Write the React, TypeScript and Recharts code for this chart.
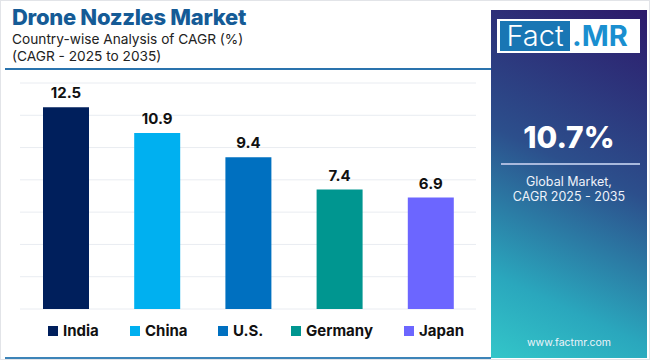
import { BarChart, Bar, Cell, XAxis, YAxis, CartesianGrid, LabelList } from "recharts";

const COUNTRIES = ["India", "China", "U.S.", "Germany", "Japan"];
const CAGR = [12.5, 10.9, 9.4, 7.4, 6.9];
const COLORS = ["#001f5c", "#00b0f0", "#0070c0", "#009690", "#6c66ff"];
const Y_TICKS = [0, 2, 4, 6, 8, 10, 12, 14];

const FONT = "Inter, 'Noto Sans', sans-serif";
const rows = COUNTRIES.map((c, i) => ({ country: c, cagr: CAGR[i] }));

export default function App() {
  return (
    <div style={{ position: "absolute", left: 0, top: 0, width: 650, height: 360, background: "#fff", fontFamily: FONT, overflow: "hidden" }}>
      <div style={{ position: "absolute", inset: 0, border: "1px solid #e2e4e8", boxSizing: "border-box" }} />

      <div style={{ position: "absolute", left: 12, top: 4, fontSize: 22, fontWeight: 800, color: "#155b96", letterSpacing: -0.3 }}>Drone Nozzles Market</div>
      <div style={{ position: "absolute", left: 12, top: 31, fontSize: 13.7, color: "#222" }}>Country-wise Analysis of CAGR (%)</div>
      <div style={{ position: "absolute", left: 12, top: 48, fontSize: 13.7, color: "#222" }}>(CAGR - 2025 to 2035)</div>
      <div style={{ position: "absolute", left: 5, top: 68, width: 486, height: 2, background: "#2a73ad" }} />
      <div style={{ position: "absolute", left: 5, top: 357, width: 486, height: 2, background: "#3d84b8" }} />

      <div style={{ position: "absolute", left: 0, top: 0 }}>
        <BarChart width={490} height={360} data={rows} margin={{ top: 83, left: 20, right: 14, bottom: 51 }}>
          <CartesianGrid horizontal vertical={false} stroke="#e9ecf1" />
          <XAxis dataKey="country" hide />
          <YAxis hide domain={[0, 14]} ticks={Y_TICKS} />
          <Bar dataKey="cagr" barSize={46} isAnimationActive={false}>
            {rows.map((_, i) => <Cell key={i} fill={COLORS[i]} />)}
            <LabelList dataKey="cagr" position="top" offset={9} fill="#111" fontSize={15} fontWeight={700} fontFamily={FONT} />
          </Bar>
        </BarChart>
      </div>

      <div style={{ position: "absolute", left: 0, top: 321, width: 490, fontSize: 15, fontWeight: 700, color: "#111" }}>
        {COUNTRIES.map((c, i) => (
          <div key={c} style={{ position: "absolute", left: [48, 130, 218, 291, 404][i], display: "flex", alignItems: "center", whiteSpace: "nowrap" }}>
            <span style={{ width: 10, height: 10, background: COLORS[i], marginRight: 5, display: "inline-block" }} />
            {c}
          </div>
        ))}
      </div>

      <div style={{ position: "absolute", left: 491, top: 10, width: 156, height: 348, background: "linear-gradient(205deg, #2d1a6b 0%, #2c4f8c 45%, #2aa7bd 80%, #33c6c9 100%)" }}>
        <div style={{ position: "absolute", left: 6, top: 9, width: 143, height: 34, background: "#fff" }}>
          <div style={{ position: "absolute", left: 3, top: 2, width: 70, height: 30, background: "#1976b4", color: "#fff", fontSize: 29, fontWeight: 300, lineHeight: "30px", textAlign: "center" }}>Fact</div>
          <div style={{ position: "absolute", left: 75, top: 1, color: "#1a8fd0", fontSize: 29, fontWeight: 700, lineHeight: "32px" }}>.MR</div>
        </div>
        <div style={{ position: "absolute", left: 0, width: 156, top: 109, textAlign: "center", color: "#fff", fontSize: 30, fontWeight: 800 }}>10.7%</div>
        <div style={{ position: "absolute", left: 10, top: 153, width: 139, height: 1.5, background: "#a9b9dd" }} />
        <div style={{ position: "absolute", left: 0, width: 156, top: 164, textAlign: "center", color: "#eef2fa", fontSize: 12.5, lineHeight: "15px" }}>Global Market,<br />CAGR 2025 - 2035</div>
        <div style={{ position: "absolute", left: 0, width: 156, top: 326, textAlign: "center", color: "#eef4fa", fontSize: 10.5 }}>www.factmr.com</div>
      </div>
    </div>
  );
}
